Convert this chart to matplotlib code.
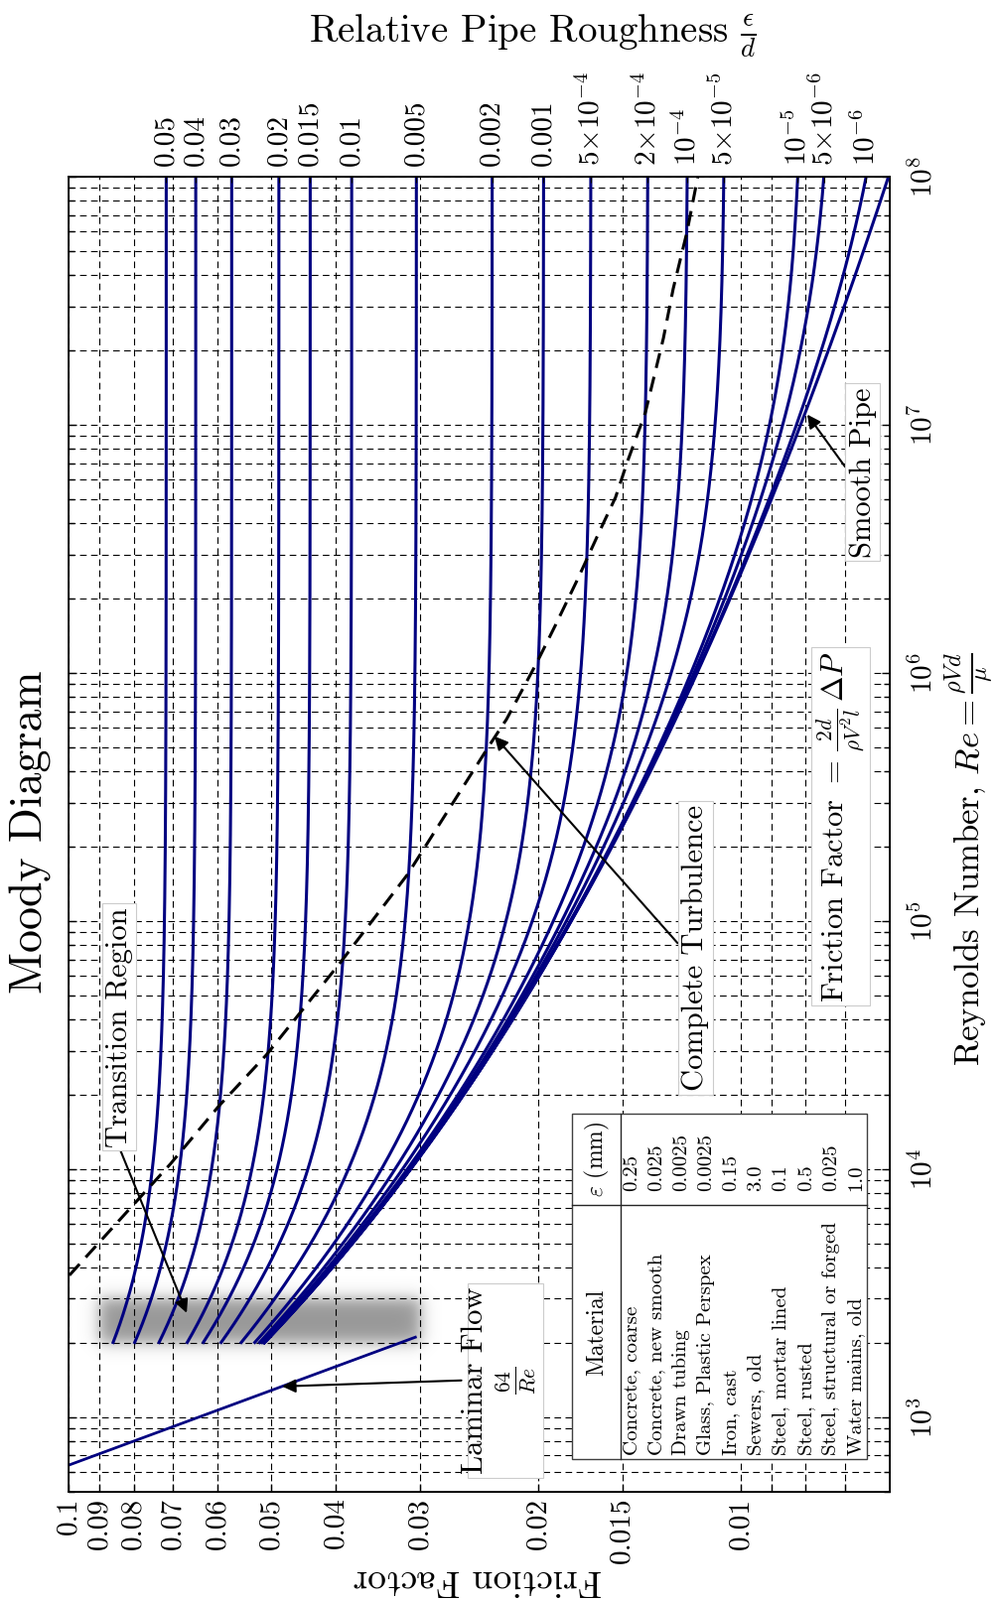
import numpy as np
import matplotlib
matplotlib.use("Agg")
import matplotlib.pyplot as plt
from matplotlib.ticker import LogLocator, NullLocator, NullFormatter

plt.rcParams["font.family"] = "serif"
plt.rcParams["font.serif"] = ["cmr10"]
plt.rcParams["mathtext.fontset"] = "cm"
plt.rcParams["axes.unicode_minus"] = False
plt.rcParams["axes.formatter.use_mathtext"] = True

NAVY = "#000080"

# relative roughness of each curve (0 = smooth pipe)
ROUGHNESS = [0.05, 0.04, 0.03, 0.02, 0.015, 0.01, 0.005, 0.002, 0.001,
             5e-4, 2e-4, 1e-4, 5e-5, 1e-5, 5e-6, 1e-6, 0.0]
ROUGHNESS_LABELS = ["0.05", "0.04", "0.03", "0.02", "0.015", "0.01", "0.005",
                    "0.002", "0.001", r"$5{\times}10^{-4}$", r"$2{\times}10^{-4}$",
                    r"$10^{-4}$", r"$5{\times}10^{-5}$", r"$10^{-5}$",
                    r"$5{\times}10^{-6}$", r"$10^{-6}$"]
RE_TURB = (2000, 1e8)
RE_LAMINAR = (500, 2100)
TRANSITION_RE = (2000, 3000)
TRANSITION_F = (0.03, 0.09)

# dashed line: start of complete turbulence
TURB_RE = [3730, 1.05e4, 1.79e4, 2.88e4, 6.8e4, 1.54e5, 5.15e5, 6.5e5, 1.1e6,
           1.57e6, 2.4e6, 3.66e6, 5.1e6, 7.1e6, 1.12e7, 2.23e7, 3.53e7,
           5.97e7, 1e8]
TURB_F = [0.0997, 0.0705, 0.0598, 0.0508, 0.0394, 0.0313, 0.0236, 0.0223,
          0.0201, 0.01883, 0.01746, 0.01626, 0.01535, 0.01474, 0.01386,
          0.01303, 0.0126, 0.01202, 0.01158]

F_TICKS = [0.1, 0.09, 0.08, 0.07, 0.06, 0.05, 0.04, 0.03, 0.02, 0.015, 0.01,
           0.009, 0.008, 0.007]
F_TICK_LABELS = ["0.1", "0.09", "0.08", "0.07", "0.06", "0.05", "0.04", "0.03",
                 "0.02", "0.015", "0.01", "", "", ""]
RE_TICKS = [1e3, 1e4, 1e5, 1e6, 1e7, 1e8]
RE_TICK_LABELS = [r"$10^{3}$", r"$10^{4}$", r"$10^{5}$", r"$10^{6}$",
                  r"$10^{7}$", r"$10^{8}$"]

MATERIALS = ["Concrete, coarse", "Concrete, new smooth", "Drawn tubing",
             "Glass, Plastic Perspex", "Iron, cast", "Sewers, old",
             "Steel, mortar lined", "Steel, rusted",
             "Steel, structural or forged", "Water mains, old"]
EPS_MM = ["0.25", "0.025", "0.0025", "0.0025", "0.15", "3.0", "0.1", "0.5",
          "0.025", "1.0"]


def swamee_jain(re, rr):
    return 0.25 / np.log10(rr / 3.7 + 5.74 / re ** 0.9) ** 2


fig = plt.figure(figsize=(10.02, 16.12), dpi=100)
W, H = 1002, 1612
ax = fig.add_axes([69 / W, 1 - 1503 / H, (896 - 69) / W, (1503 - 178) / H])

ax.set_xscale("log")
ax.set_yscale("log")
ax.set_xlim(0.1, 0.006)
ax.set_ylim(500, 1e8)

# friction factor curves
re = np.logspace(np.log10(RE_TURB[0]), np.log10(RE_TURB[1]), 500)
f_end = []
for rr in ROUGHNESS:
    f = swamee_jain(re, rr)
    ax.plot(f, re, color=NAVY, lw=2.2, zorder=3)
    if rr > 0:
        f_end.append(f[-1])

# laminar
re_lam = np.logspace(np.log10(RE_LAMINAR[0]), np.log10(RE_LAMINAR[1]), 50)
ax.plot(64 / re_lam, re_lam, color=NAVY, lw=2.0, zorder=3)

# complete turbulence boundary
ax.plot(TURB_F, TURB_RE, color="k", lw=2.2, dashes=(5, 3), zorder=3)

# ticks and grid
ax.set_xticks(F_TICKS, F_TICK_LABELS, rotation=90, fontsize=21)
ax.xaxis.set_minor_locator(NullLocator())
ax.set_yticks(RE_TICKS, RE_TICK_LABELS, rotation=90, fontsize=21, va="center")
ax.yaxis.set_minor_locator(LogLocator(base=10, subs=range(2, 10), numticks=20))
ax.yaxis.set_minor_formatter(NullFormatter())
ax.tick_params(axis="both", which="both", direction="in", top=True,
               bottom=True, left=True, right=True)
ax.tick_params(axis="y", which="both", labelleft=False, labelright=True, pad=14)
ax.tick_params(axis="x", which="both", pad=4)
ax.tick_params(which="major", length=6, width=1)
ax.tick_params(which="minor", length=4, width=1)
ax.grid(True, which="major", axis="x", color="k", lw=0.8, ls=(0, (6, 4)))
ax.grid(True, which="both", axis="y", color="k", lw=0.8, ls=(0, (6, 4)))
for sp in ax.spines.values():
    sp.set_linewidth(1.2)

# top axis: relative roughness at Re = 1e8
ax2 = ax.twiny()
ax2.set_xscale("log")
ax2.set_xlim(ax.get_xlim())
ax2.set_xticks(f_end, ROUGHNESS_LABELS, rotation=90, fontsize=21)
ax2.xaxis.set_minor_locator(NullLocator())
ax2.tick_params(axis="x", direction="in", length=4, pad=8)

# blurred transition region
to_axes = ax.transData + ax.transAxes.inverted()
(x0, y0), (x1, y1) = to_axes.transform([[TRANSITION_F[1], TRANSITION_RE[0]],
                                        [TRANSITION_F[0], TRANSITION_RE[1]]])
pos = ax.get_position()
ax_w, ax_h = pos.width * W, pos.height * H
bw, bh = (x1 - x0) * ax_w, (y1 - y0) * ax_h
m, s = 22, 4.5
mx, my = m / ax_w, m / ax_h
ins = ax.inset_axes([x0 - mx, y0 - my, (x1 - x0) + 2 * mx, (y1 - y0) + 2 * my])
nx, ny = int(bw + 2 * m), int(bh + 2 * m)
u = np.arange(nx) + 0.5 - m
v = np.arange(ny) + 0.5 - m
px = 1 / (1 + np.exp(-u / s)) / (1 + np.exp((u - bw) / s))
py = 1 / (1 + np.exp(-v / s)) / (1 + np.exp((v - bh) / s))
img = np.zeros((ny, nx, 4))
img[..., :3] = 0.55
img[..., 3] = np.outer(py, px) * 0.9
ins.imshow(img, extent=(0, 1, 0, 1), aspect="auto", origin="lower",
           interpolation="bilinear")
ins.axis("off")
ins.set_zorder(1)

# annotations
box = dict(boxstyle="square,pad=0.12", fc="white", ec="0.8", lw=0.8)
arr = dict(arrowstyle="-|>", color="k", lw=1.5, mutation_scale=20,
           shrinkA=0, shrinkB=0)

ax.annotate("Transition Region", xy=(0.0667, 2630), xytext=(0.0841, 3.73e4),
            rotation=90, ha="center", va="center", fontsize=22, bbox=box,
            arrowprops=dict(arr, relpos=(0.5, 0.0)), zorder=5)
ax.annotate("Laminar Flow\n" + r"$\frac{64}{Re}$", xy=(0.0481, 1330),
            xytext=(0.02278, 1406), rotation=90, ha="center", va="center",
            multialignment="center", fontsize=22, bbox=box,
            arrowprops=dict(arr, relpos=(0.0, 0.5)), zorder=5)
ax.annotate("Complete Turbulence", xy=(0.02324, 5.55e5),
            xytext=(0.01167, 7.8e4), rotation=90, ha="center", va="center",
            fontsize=22, bbox=box, arrowprops=dict(arr, relpos=(0.0, 0.5)),
            zorder=5)
ax.annotate("Smooth Pipe", xy=(0.00796, 1.1e7), xytext=(0.00658, 6.43e6),
            rotation=90, ha="center", va="center", fontsize=22, bbox=box,
            arrowprops=dict(arr, relpos=(0.0, 0.5)), zorder=5)
ax.text(0.0071, 2.4e5, r"Friction Factor $=\,\frac{2d}{\rho V^2 l}\,\Delta P$",
        rotation=90, ha="center", va="center", fontsize=22, bbox=box, zorder=5)

# material table (axes fraction coordinates)
def axf(X, Y):
    return (X - 69) / 827, (1503 - Y) / 1325


tx0, ty0 = axf(576, 1470)
tx1, ty1 = axf(873, 1122)
hx, _ = axf(625, 0)
_, cy = axf(0, 1214)
ax.add_patch(plt.Rectangle((tx0, ty0), tx1 - tx0, ty1 - ty0, transform=ax.transAxes,
                           fc="white", ec="0.25", lw=1.0, zorder=6))
ax.plot([hx, hx], [ty0, ty1], transform=ax.transAxes, color="0.15", lw=1.0, zorder=7)
ax.plot([tx0, tx1], [cy, cy], transform=ax.transAxes, color="0.15", lw=1.0, zorder=7)
ax.text(*axf(601, 1342), "Material", transform=ax.transAxes, rotation=90,
        ha="center", va="center", fontsize=17, zorder=8)
ax.text(*axf(601, 1168), r"$\varepsilon$ (mm)", transform=ax.transAxes,
        rotation=90, ha="center", va="center", fontsize=17, zorder=8)
for i, (mat, eps) in enumerate(zip(MATERIALS, EPS_MM)):
    X = 636 + 25.1 * i
    ax.text(*axf(X, 1466), mat, transform=ax.transAxes, rotation=90,
            ha="center", va="bottom", fontsize=15, zorder=8)
    ax.text(*axf(X, 1200), eps, transform=ax.transAxes, rotation=90,
            ha="center", va="bottom", fontsize=15, zorder=8)

# figure labels
fig.text(31 / W, 1 - 838 / H, "Moody Diagram", rotation=90, ha="center",
         va="center", fontsize=33)
fig.text(536 / W, 1 - 36 / H, r"Relative Pipe Roughness $\frac{\epsilon}{d}$",
         ha="center", va="center", fontsize=28)
fig.text(976 / W, 1 - 866 / H,
         r"Reynolds Number, $Re=\frac{\rho V d}{\mu}$",
         rotation=90, ha="center", va="center", fontsize=25)
fig.text(481 / W, 1 - 1592 / H, "Friction Factor", rotation=180, ha="center",
         va="center", fontsize=27)

fig.savefig("out.png", dpi=100)
